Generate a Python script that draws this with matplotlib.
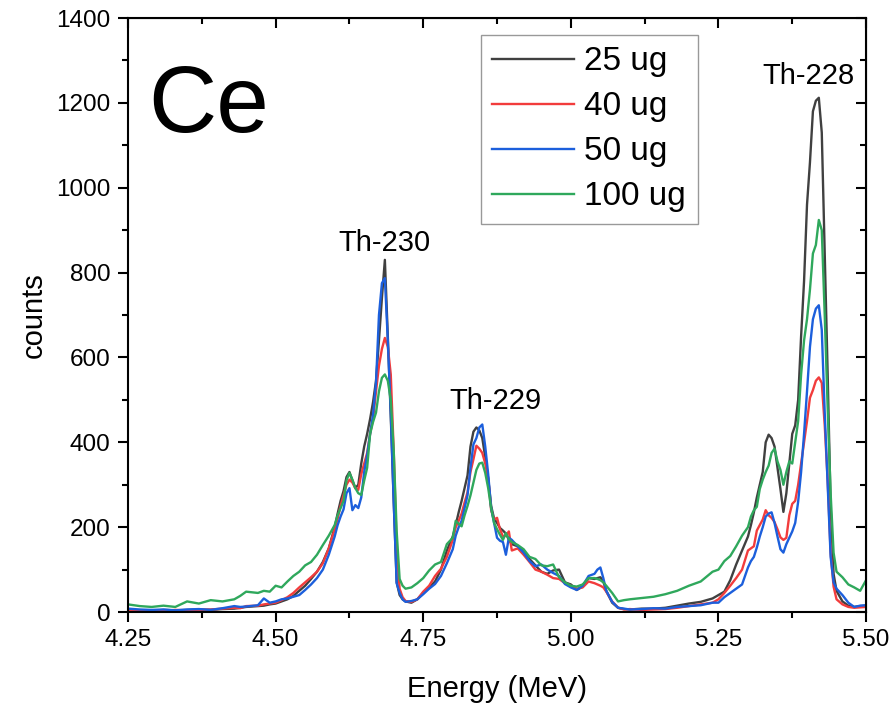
import numpy as np
import matplotlib
matplotlib.use("Agg")
import matplotlib.pyplot as plt
from matplotlib.ticker import MultipleLocator

plt.rcParams["font.family"] = ["Liberation Sans", "DejaVu Sans"]

# %% data (energy in MeV, counts per channel)
energy = [
    4.25, 4.27, 4.29, 4.31, 4.33, 4.35, 4.37, 4.39, 4.41, 4.43, 4.44, 4.45, 4.47, 4.48,
    4.49, 4.50, 4.51, 4.52, 4.53, 4.54, 4.55, 4.56, 4.57, 4.58, 4.59, 4.60, 4.605, 4.61,
    4.615, 4.62, 4.625, 4.63, 4.635, 4.64, 4.645, 4.65, 4.655, 4.66, 4.665, 4.67, 4.675,
    4.68, 4.685, 4.69, 4.695, 4.70, 4.705, 4.71, 4.715, 4.72, 4.73, 4.74, 4.75, 4.76,
    4.77, 4.78, 4.79, 4.80, 4.805, 4.81, 4.815, 4.82, 4.825, 4.83, 4.835, 4.84, 4.845,
    4.85, 4.855, 4.86, 4.865, 4.87, 4.875, 4.88, 4.885, 4.89, 4.895, 4.90, 4.91, 4.92,
    4.93, 4.94, 4.95, 4.96, 4.97, 4.98, 4.99, 5.00, 5.01, 5.02, 5.03, 5.04, 5.045, 5.05,
    5.055, 5.06, 5.07, 5.08, 5.09, 5.10, 5.12, 5.14, 5.16, 5.18, 5.20, 5.22, 5.24, 5.25,
    5.26, 5.27, 5.28, 5.29, 5.30, 5.305, 5.31, 5.315, 5.32, 5.325, 5.33, 5.335, 5.34,
    5.345, 5.35, 5.355, 5.36, 5.365, 5.37, 5.375, 5.38, 5.385, 5.39, 5.395, 5.40, 5.405,
    5.41, 5.415, 5.42, 5.425, 5.43, 5.435, 5.44, 5.445, 5.45, 5.46, 5.47, 5.48, 5.49, 5.50,
]

counts_25ug = [
    5, 4, 3, 5, 4, 5, 6, 5, 7, 8, 10, 12, 14, 15,
    18, 20, 25, 30, 38, 50, 62, 78, 95, 118, 150, 200, 232, 262,
    285, 318, 330, 310, 292, 300, 350, 390, 420, 455, 495, 545, 640,
    740, 830, 650, 460, 260, 70, 40, 30, 25, 22, 30, 45, 58,
    72, 100, 145, 178, 205, 235, 262, 292, 322, 390, 425, 435, 428,
    410, 365, 315, 250, 220, 210, 198, 192, 185, 170, 160, 155, 145,
    125, 110, 95, 90, 98, 100, 70, 65, 52, 60, 80, 78, 80, 82,
    72, 50, 22, 10, 7, 6, 8, 8, 10, 15, 20, 24, 32, 40,
    48, 75, 112, 145, 178, 205, 235, 270, 300, 330, 400, 418, 410,
    390, 340, 290, 236, 280, 350, 420, 440, 500, 650, 780, 960, 1060,
    1180, 1205, 1212, 1130, 850, 560, 250, 90, 50, 25, 15, 12, 14, 15,
]

counts_40ug = [
    3, 4, 2, 3, 5, 4, 5, 6, 8, 10, 9, 14, 15, 18,
    20, 22, 28, 35, 45, 58, 70, 82, 95, 115, 150, 195, 220, 250,
    275, 300, 312, 305, 292, 288, 325, 350, 375, 420, 455, 520, 580,
    620, 646, 625, 560, 380, 150, 55, 35, 26, 24, 30, 48, 62,
    85, 102, 130, 170, 200, 215, 232, 258, 282, 330, 360, 392, 385,
    375, 350, 315, 240, 218, 222, 195, 178, 180, 190, 145, 150, 135,
    118, 100, 95, 88, 80, 78, 68, 62, 55, 58, 72, 68, 65, 62,
    58, 48, 25, 10, 6, 7, 5, 6, 7, 10, 14, 18, 22, 30,
    45, 62, 80, 100, 145, 150, 155, 192, 205, 218, 240, 228, 222,
    212, 195, 176, 170, 175, 228, 255, 262, 300, 350, 400, 450, 505,
    523, 545, 553, 540, 440, 310, 140, 60, 30, 18, 12, 10, 11, 12,
]

counts_50ug = [
    8, 6, 5, 6, 4, 6, 7, 5, 9, 14, 12, 13, 16, 32,
    22, 25, 30, 32, 36, 40, 52, 65, 80, 100, 135, 178, 205, 225,
    242, 280, 292, 240, 252, 245, 270, 330, 370, 420, 465, 540, 700,
    775, 787, 640, 470, 260, 68, 45, 30, 24, 26, 30, 42, 55,
    66, 85, 115, 148, 180, 200, 215, 245, 275, 340, 395, 410, 435,
    442, 390, 325, 245, 210, 175, 168, 165, 135, 175, 170, 155, 140,
    120, 108, 112, 100, 92, 85, 66, 58, 52, 62, 85, 90, 100, 105,
    80, 50, 24, 10, 8, 6, 7, 9, 8, 12, 14, 16, 22, 22,
    35, 45, 55, 65, 105, 120, 130, 152, 178, 200, 225, 232, 235,
    210, 178, 148, 140, 160, 175, 190, 210, 260, 330, 420, 520, 625,
    690, 715, 723, 665, 470, 300, 130, 70, 55, 40, 22, 12, 15, 16,
]

counts_100ug = [
    18, 14, 12, 15, 12, 25, 20, 28, 25, 30, 38, 48, 45, 50,
    48, 62, 58, 72, 85, 95, 110, 118, 135, 158, 180, 205, 228, 245,
    262, 310, 328, 312, 292, 280, 276, 310, 340, 420, 448, 470, 520,
    552, 560, 545, 500, 380, 190, 78, 62, 55, 58, 68, 80, 98,
    112, 118, 160, 175, 215, 208, 202, 228, 250, 275, 305, 335, 350,
    352, 328, 292, 245, 210, 195, 182, 170, 186, 172, 165, 158, 148,
    130, 125, 110, 108, 112, 82, 70, 62, 60, 65, 80, 80, 78, 75,
    70, 62, 45, 25, 28, 30, 33, 36, 42, 50, 62, 72, 95, 100,
    120, 132, 155, 180, 200, 225, 240, 248, 290, 312, 330, 345, 375,
    385, 355, 335, 300, 330, 355, 350, 400, 450, 560, 640, 690, 760,
    845, 865, 924, 900, 700, 480, 280, 140, 95, 82, 65, 58, 50, 75,
]

series_labels = ["25 ug", "40 ug", "50 ug", "100 ug"]
series_colors = ["#404040", "#f23c3c", "#1c5fdc", "#2fa85c"]

peak_labels = ["Th-230", "Th-229", "Th-228"]
peak_pos = [(4.685, 850), (4.872, 478), (5.402, 1245)]

# %% figure
fig = plt.figure(figsize=(8.91, 7.06), dpi=100)
ax = fig.add_axes([0.1437, 0.1331, 0.8283, 0.8414])

all_counts = [counts_25ug, counts_40ug, counts_50ug, counts_100ug]
for y, lab, col in zip(all_counts, series_labels, series_colors):
    ax.plot(energy, y, color=col, lw=1.7, label=lab)

ax.set_xlim(4.25, 5.50)
ax.set_ylim(0, 1400)
ax.xaxis.set_major_locator(MultipleLocator(0.25))
ax.xaxis.set_minor_locator(MultipleLocator(0.125))
ax.yaxis.set_major_locator(MultipleLocator(200))
ax.yaxis.set_minor_locator(MultipleLocator(100))
ax.xaxis.set_major_formatter(matplotlib.ticker.FormatStrFormatter("%.2f"))

for sp in ax.spines.values():
    sp.set_linewidth(1.5)
ax.tick_params(which="both", direction="out", width=1.5, labelsize=17.5)
ax.tick_params(which="major", length=7.5, pad=5)
ax.tick_params(which="minor", length=4.5)

# mirrored ticks on top/right point inwards
top = ax.secondary_xaxis("top")
right = ax.secondary_yaxis("right")
for sec in (top, right):
    sec.tick_params(which="both", direction="in", width=1.5, labelleft=False,
                    labelright=False, labeltop=False, labelbottom=False)
    sec.tick_params(which="major", length=7.5)
    sec.tick_params(which="minor", length=4.5)
top.xaxis.set_major_locator(MultipleLocator(0.25))
top.xaxis.set_minor_locator(MultipleLocator(0.125))
right.yaxis.set_major_locator(MultipleLocator(200))
right.yaxis.set_minor_locator(MultipleLocator(100))

ax.set_xlabel("Energy (MeV)", fontsize=21, labelpad=17)
ax.set_ylabel("counts", fontsize=21, labelpad=6)

ax.text(0.027, 0.808, "Ce", transform=ax.transAxes, fontsize=68, va="baseline", ha="left")
for lab, (xp, yp) in zip(peak_labels, peak_pos):
    ax.text(xp, yp, lab, fontsize=21, ha="center", va="baseline")

leg = ax.legend(loc="upper left", bbox_to_anchor=(0.478, 0.972), borderaxespad=0,
                fontsize=24, frameon=True, fancybox=False, edgecolor="#808080",
                handlelength=2.45, handletextpad=0.3, labelspacing=0.42,
                borderpad=0.35)
leg.get_frame().set_linewidth(1.0)

fig.savefig("out.png", dpi=100)
